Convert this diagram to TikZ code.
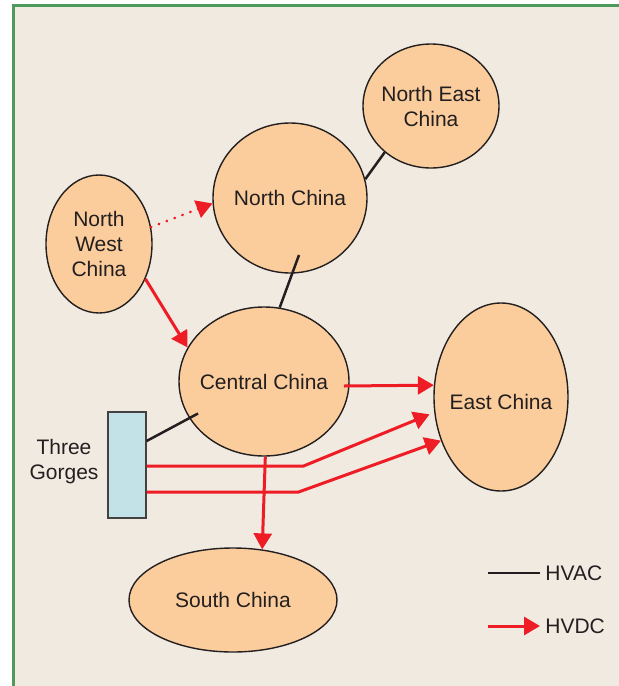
\documentclass[tikz,border=0pt]{standalone}
\usepackage{fontspec}
\setmainfont{Liberation Sans}
\usetikzlibrary{shapes.geometric,arrows.meta,calc}
\definecolor{bgc}{HTML}{F1EAE1}
\definecolor{framec}{HTML}{4E9A5C}
\definecolor{regc}{HTML}{FBCD9C}
\definecolor{tgc}{HTML}{C2E2E8}
\definecolor{redc}{HTML}{EE1C25}
\definecolor{txtc}{HTML}{231F20}
\begin{document}
\begin{tikzpicture}[x=0.5pt,y=-0.5pt,
  region/.style={ellipse, draw=txtc, line width=0.7pt, fill=regc, inner sep=0pt},
  regtext/.style={font=\fontsize{10.5}{12.5}\selectfont, text=txtc, align=center, inner sep=0pt},
  hvac/.style={draw=txtc, line width=1.25pt},
  hvdc/.style={draw=redc, line width=1.5pt, -{Triangle[length=8pt,width=9pt]}},
  hvdcdot/.style={hvdc, line cap=round, dash pattern=on 0.01pt off 4.2pt}]
\useasboundingbox (0,0) rectangle (619,686);
\fill[white] (0,0) rectangle (619,686);
\fill[bgc] (13,5) rectangle (619,686);
\draw[framec, line width=1.5pt] (13,700) -- (13,5) -- (630,5);

\node[region, minimum width=68pt, minimum height=62pt,
  label={[regtext]center:North East\\China}] (ne) at (431,106) {};
\node[region, minimum width=77pt, minimum height=75pt,
  label={[regtext]center:North China}] (north) at (290,198) {};
\node[region, minimum width=53pt, minimum height=69pt,
  label={[regtext]center:North\\West\\China}] (nw) at (99,244) {};
\node[region, minimum width=85pt, minimum height=74.5pt,
  label={[regtext]center:Central China}] (central) at (264,381.5) {};
\node[region, minimum width=67pt, minimum height=94pt,
  label={[regtext, yshift=-2.5pt]center:East China}] (east) at (501,397) {};
\node[region, minimum width=104pt, minimum height=52pt,
  label={[regtext]center:South China}] (south) at (233,600) {};
\node[draw=txtc!85, line width=0.6pt, fill=tgc, minimum width=19pt, minimum height=53pt, inner sep=0pt] (tg) at (127,465) {};
\node[regtext] (tgl) at (64,462) {Three\\Gorges};

% HVAC
\draw[hvac] (ne.-135) -- (north.14);
\draw[hvac] ($(north.center)+(9,57)$) -- (central.78);
\draw[hvac] ($(tg.east)+(0,-24)$) -- ($(central.center)+(-66,32)$);

% HVDC
\draw[hvdcdot] (nw.18) -- (north.184);
\draw[hvdc] (nw.-37) -- (central.156);
\draw[hvdc] ($(central.center)+(80,4.5)$) -- (east.170);
\draw[hvdc] (central.-89) -- (south.60);
\draw[hvdc, shorten >=2.5pt] ($(tg.east)+(0,1)$) -- ++(157,0) -- (east.193);
\draw[hvdc] ($(tg.east)+(0,27)$) -- ++(152,0) -- (east.216);

% legend
\coordinate (lac) at (488,573);
\coordinate (ldc) at (488,626);
\node[regtext, anchor=west] (hvacl) at (545,573) {HVAC};
\node[regtext, anchor=west] (hvdcl) at (545,626) {HVDC};
\draw[hvac] (lac) -- ($(hvacl.west)+(-5,0)$);
\draw[hvdc] (ldc) -- ($(hvdcl.west)+(-5,0)$);
\end{tikzpicture}
\end{document}
